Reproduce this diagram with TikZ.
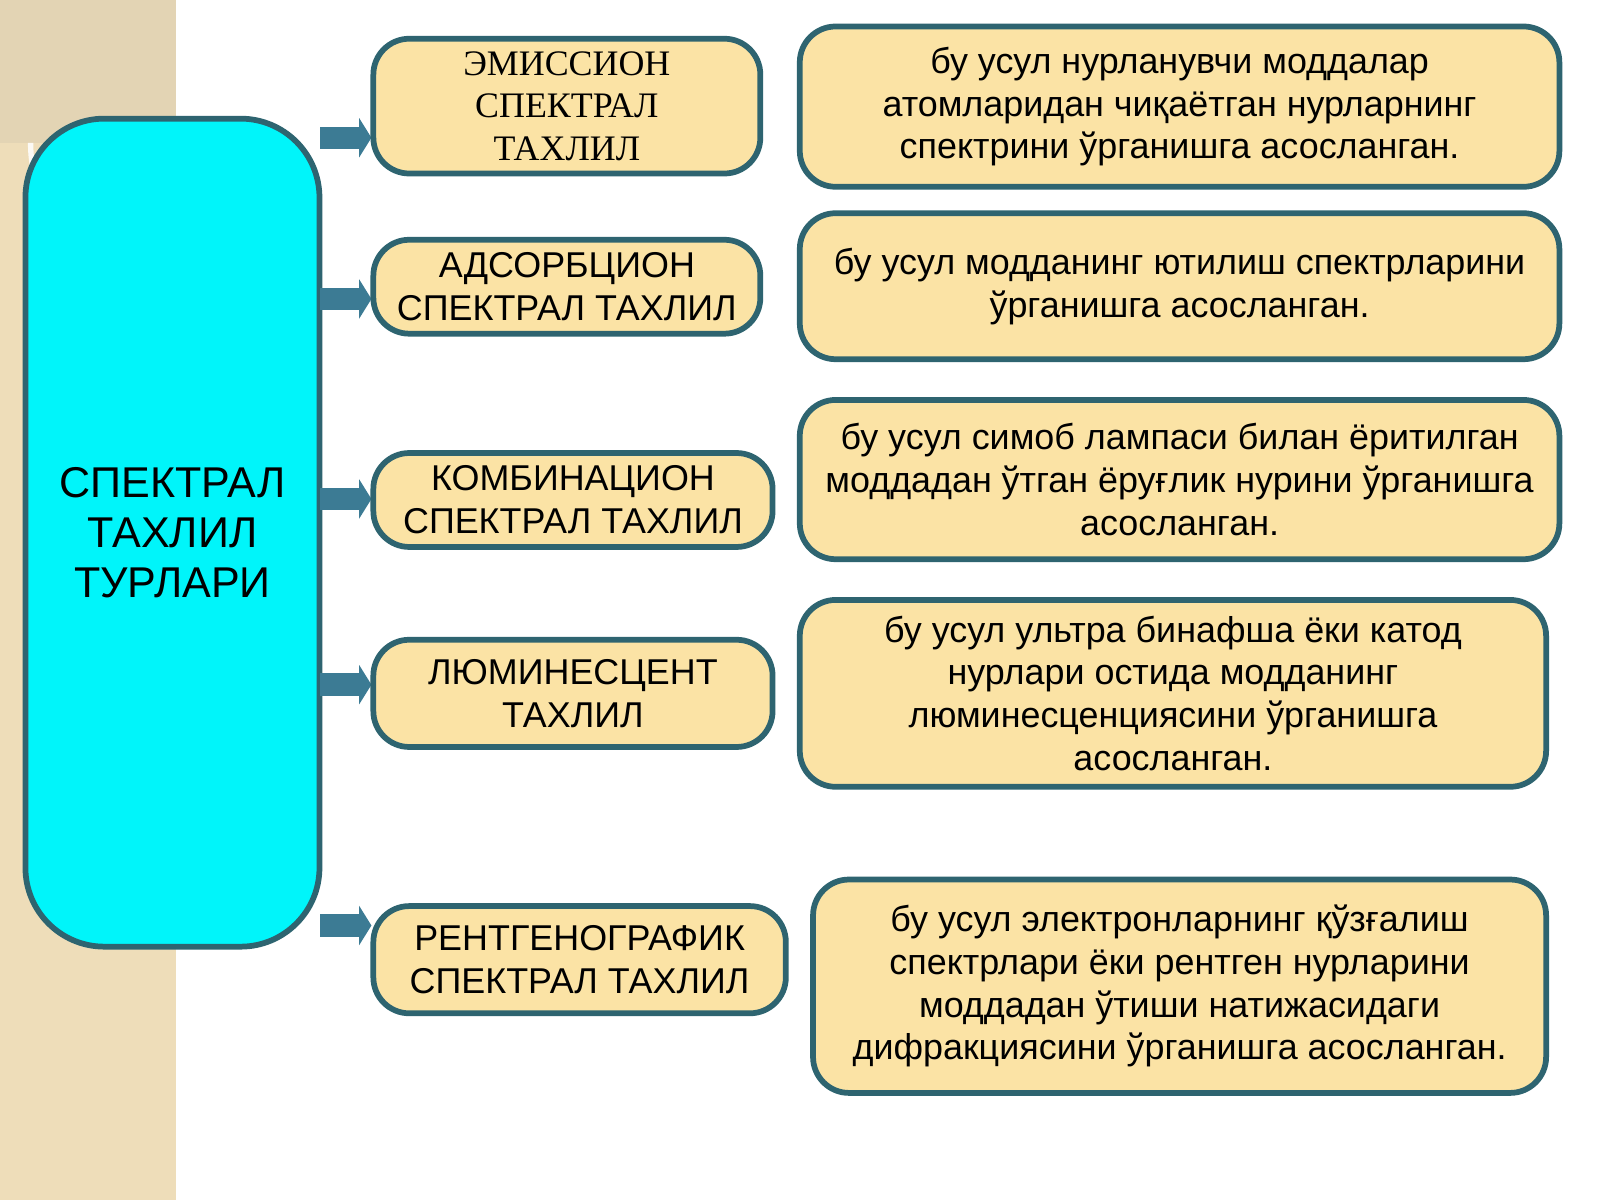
\documentclass[tikz,border=0pt]{standalone}
\usepackage{fontspec}
\setmainfont{Liberation Sans}
\newfontfamily\serifcyr{Liberation Serif}
\usetikzlibrary{arrows.meta}
\definecolor{bord}{HTML}{2E6470}
\definecolor{boxfill}{HTML}{FBE3A5}
\definecolor{arr}{HTML}{3C7B94}
\definecolor{beige}{HTML}{EEDDB9}
\definecolor{beigedk}{HTML}{E3D4B4}
\definecolor{cy}{HTML}{00F5FA}
\begin{document}
\begin{tikzpicture}[x=0.01cm,y=-0.01cm,
 box/.style={draw=bord,line width=1.6pt,fill=boxfill,rounded corners=10pt,align=center,font=\fontsize{10}{11.9}\selectfont,inner sep=0pt},
 ar/.style={draw=arr,line width=0.22cm,-{Triangle[length=0.12cm,width=0.38cm]}}]
\useasboundingbox (0,0) rectangle (1568,1176);
\fill[white] (0,0) rectangle (1568,1176);
\fill[beige] (0,0) rectangle (172,1176);
\fill[beigedk] (0,0) rectangle (172,140);
\draw[white!85!beige,line width=1.5pt] (30,140) arc[start angle=180,end angle=90,radius=140];
\node[draw=bord,line width=1.6pt,fill=cy,rounded corners=22pt,minimum width=2.88cm,minimum height=8.11cm,align=center,font=\fontsize{12}{14}\selectfont] (main) at (169,522) {СПЕКТРАЛ\\ТАХЛИЛ\\ТУРЛАРИ};
\foreach \y/\n in {135/1,293/2,489/3,671/4,907/5}{
  \coordinate (s\n) at (314,\y); \coordinate (e\n) at (364,\y);
  \draw[ar] (s\n) -- (e\n);}
\node[box,minimum width=3.79cm,minimum height=1.32cm,font=\serifcyr\fontsize{10}{11.9}\selectfont] (b1) at (555.5,104) {ЭМИССИОН\\СПЕКТРАЛ\\ТАХЛИЛ};
\node[box,minimum width=3.79cm,minimum height=0.92cm] (b2) at (555.5,281) {АДСОРБЦИОН\\СПЕКТРАЛ ТАХЛИЛ};
\node[box,minimum width=3.91cm,minimum height=0.92cm] (b3) at (561.5,490) {КОМБИНАЦИОН\\СПЕКТРАЛ ТАХЛИЛ};
\node[box,minimum width=3.91cm,minimum height=1.05cm] (b4) at (561.5,679.5) {ЛЮМИНЕСЦЕНТ\\ТАХЛИЛ};
\node[box,minimum width=4.04cm,minimum height=1.05cm] (b5) at (568,940.5) {РЕНТГЕНОГРАФИК\\СПЕКТРАЛ ТАХЛИЛ};
\node[box,minimum width=7.44cm,minimum height=1.57cm] (c1) at (1156,104.5) {бу усул нурланувчи моддалар\\атомларидан чиқаётган нурларнинг\\спектрини ўрганишга асосланган.};
\node[box,minimum width=7.44cm,minimum height=1.43cm] (c2) at (1156,280.5) {бу усул модданинг ютилиш спектрларини\\ўрганишга асосланган.};
\node[box,minimum width=7.44cm,minimum height=1.56cm] (c3) at (1156,470) {бу усул симоб лампаси билан ёритилган\\моддадан ўтган ёруғлик нурини ўрганишга\\асосланган.};
\node[box,minimum width=7.31cm,minimum height=1.83cm] (c4) at (1149.5,679.5) {бу усул ультра бинафша ёки катод\\нурлари остида модданинг\\люминесценциясини ўрганишга\\асосланган.};
\node[box,minimum width=7.18cm,minimum height=2.09cm] (c5) at (1156,966.5) {бу усул электронларнинг қўзғалиш\\спектрлари ёки рентген нурларини\\моддадан ўтиши натижасидаги\\дифракциясини ўрганишга асосланган.};
\end{tikzpicture}
\end{document}
